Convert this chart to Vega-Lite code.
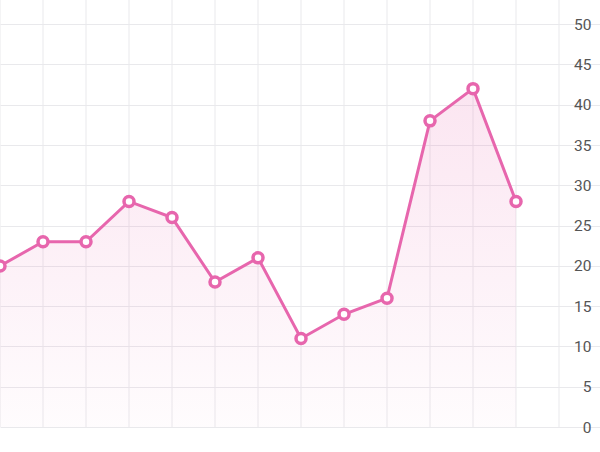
{
  "$schema": "https://vega.github.io/schema/vega-lite/v6.json",
  "width": 600,
  "height": 444,
  "autosize": "none",
  "padding": 0,
  "background": "#f3f4f8",
  "config": {
    "view": {"fill": "white", "stroke": null},
    "font": "Roboto"
  },
  "datasets": {
    "series": [
      {"i": 0, "value": 20},
      {"i": 1, "value": 23},
      {"i": 2, "value": 23},
      {"i": 3, "value": 28},
      {"i": 4, "value": 26},
      {"i": 5, "value": 18},
      {"i": 6, "value": 21},
      {"i": 7, "value": 11},
      {"i": 8, "value": 14},
      {"i": 9, "value": 16},
      {"i": 10, "value": 38},
      {"i": 11, "value": 42},
      {"i": 12, "value": 28}
    ],
    "vgrid": [
      {"i": 0}, {"i": 1}, {"i": 2}, {"i": 3}, {"i": 4}, {"i": 5}, {"i": 6},
      {"i": 7}, {"i": 8}, {"i": 9}, {"i": 10}, {"i": 11}, {"i": 12}, {"i": 13}
    ]
  },
  "layer": [
    {
      "data": {"name": "vgrid"},
      "mark": {"type": "rule", "color": "#e9e9ec", "strokeWidth": 1},
      "encoding": {
        "x": {"field": "i", "type": "quantitative", "scale": {"domain": [0, 13.953], "nice": false, "zero": false}, "axis": null},
        "y": {
          "datum": 53,
          "type": "quantitative",
          "scale": {"domain": [-2.1, 53], "nice": false, "zero": false},
          "axis": {
            "orient": "right",
            "values": [0, 5, 10, 15, 20, 25, 30, 35, 40, 45, 50],
            "grid": true,
            "gridColor": "#e9e9ec",
            "gridOpacity": 1,
            "ticks": false,
            "domain": false,
            "labelAlign": "right",
            "labelBaseline": "middle",
            "labelPadding": -9,
            "labelFontSize": 15.5,
            "labelColor": "#555555",
            "title": null
          }
        },
        "y2": {"datum": 0}
      }
    },
    {
      "data": {"name": "series"},
      "mark": {
        "type": "area",
        "color": {
          "gradient": "linear",
          "x1": 0, "y1": 0, "x2": 0, "y2": 1,
          "stops": [
            {"offset": 0, "color": "rgba(232, 102, 172, 0.17)"},
            {"offset": 1, "color": "rgba(232, 102, 172, 0.02)"}
          ]
        }
      },
      "encoding": {
        "x": {"field": "i", "type": "quantitative"},
        "y": {"field": "value", "type": "quantitative"}
      }
    },
    {
      "data": {"name": "series"},
      "mark": {
        "type": "line",
        "color": "#e766ad",
        "strokeWidth": 3,
        "point": {"filled": true, "fill": "white", "stroke": "#e766ad", "strokeWidth": 3.5, "size": 100, "opacity": 1}
      },
      "encoding": {
        "x": {"field": "i", "type": "quantitative"},
        "y": {"field": "value", "type": "quantitative"}
      }
    }
  ]
}
